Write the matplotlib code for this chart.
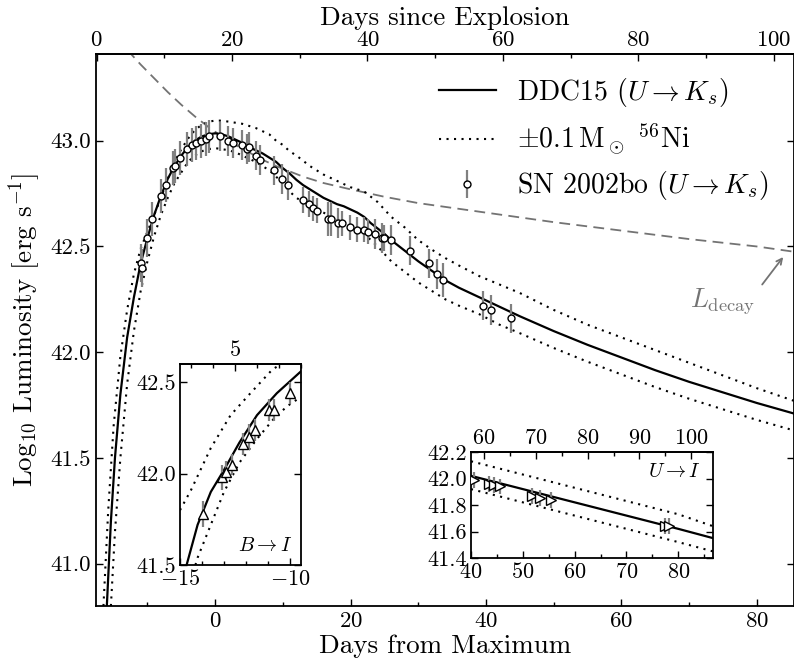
import numpy as np
import matplotlib
matplotlib.use('Agg')
import matplotlib.pyplot as plt
from matplotlib.lines import Line2D
from matplotlib.ticker import MultipleLocator

plt.rcParams['font.family'] = 'serif'
plt.rcParams['font.serif'] = ['cmr10']
plt.rcParams['mathtext.fontset'] = 'cm'
plt.rcParams['axes.formatter.use_mathtext'] = True

# days between explosion and B maximum
t_max = 17.5

# SN 2002bo, U -> Ks (days from max, log L, error)
obs_day = [-10.9, -10.8, -10.0, -9.3, -8.0, -7.3, -6.2, -6.0, -5.2, -4.1, -3.4, -2.9,
           -2.1, -1.3, -0.9, 0.7, 1.9, 2.7, 3.9, 4.7, 5.0, 6.0, 6.6, 8.7, 9.9, 10.7,
           13.0, 13.9, 14.5, 15.1, 16.7, 17.1, 18.1, 18.7, 19.9, 21.0, 22.0, 22.6,
           23.6, 24.6, 25.0, 26.0, 28.8, 31.6, 32.8, 33.7, 39.5, 40.8, 43.7]
obs_lum = [42.42, 42.40, 42.54, 42.63, 42.74, 42.79, 42.87, 42.88, 42.92, 42.96, 42.98, 42.99,
           43.00, 43.01, 43.02, 43.02, 43.00, 42.99, 42.98, 42.96, 42.97, 42.93, 42.91, 42.86,
           42.82, 42.79, 42.72, 42.70, 42.68, 42.67, 42.63, 42.63, 42.61, 42.61, 42.59, 42.58,
           42.58, 42.57, 42.56, 42.54, 42.54, 42.53, 42.48, 42.42, 42.37, 42.34, 42.22, 42.20,
           42.16]
obs_err = [0.09, 0.09, 0.09, 0.08, 0.08, 0.08, 0.08, 0.08, 0.08, 0.08, 0.08, 0.08,
           0.08, 0.08, 0.08, 0.07, 0.07, 0.07, 0.07, 0.07, 0.07, 0.07, 0.07, 0.07,
           0.07, 0.07, 0.06, 0.06, 0.06, 0.06, 0.08, 0.08, 0.07, 0.06, 0.06, 0.06,
           0.06, 0.06, 0.07, 0.07, 0.06, 0.07, 0.07, 0.07, 0.07, 0.08, 0.07, 0.07,
           0.07]

# DDC15 model, U -> Ks
mod_day = [-16.0, -15.4, -14.8, -14.0, -13.0, -12.0, -11.0, -10.0, -9.0, -8.0, -7.0, -6.0,
           -5.0, -4.0, -3.0, -2.0, -1.0, 0.0, 1.0, 2.0, 3.0, 4.0, 5.0, 6.0, 7.0, 8.0, 9.0,
           10.0, 11.0, 12.0, 13.0, 14.0, 15.0, 16.0, 17.0, 18.0, 19.0, 20.0, 21.0, 22.0,
           23.0, 24.0, 25.0, 26.0, 27.0, 28.0, 29.0, 30.0, 32.0, 34.0, 36.0, 39.0, 42.0,
           45.0, 50.0, 55.0, 60.0, 65.0, 70.0, 75.0, 80.0, 85.5]
mod_lum = [40.80, 41.20, 41.50, 41.80, 42.07, 42.26, 42.42, 42.54, 42.65, 42.74, 42.82, 42.88,
           42.93, 42.97, 43.00, 43.02, 43.03, 43.035, 43.03, 43.02, 43.005, 42.99, 42.97, 42.955,
           42.94, 42.92, 42.90, 42.87, 42.845, 42.815, 42.79, 42.77, 42.75, 42.73, 42.715, 42.70,
           42.69, 42.675, 42.66, 42.64, 42.61, 42.585, 42.56, 42.53, 42.505, 42.48, 42.455, 42.43,
           42.385, 42.34, 42.305, 42.26, 42.215, 42.17, 42.10, 42.035, 41.975, 41.915, 41.86,
           41.81, 41.76, 41.71]

# +0.1 Msun 56Ni
hi_day = [-16.5, -15.8, -15.0, -14.0, -13.0, -12.0, -11.0, -10.0, -9.0, -8.0, -7.0, -6.0,
          -5.0, -4.0, -3.0, -2.0, -1.0, 0.0, 1.0, 2.0, 3.0, 4.0, 5.0, 6.0, 7.0, 8.0, 9.0,
          10.0, 11.0, 12.0, 14.0, 16.0, 18.0, 20.0, 22.0, 24.0, 26.0, 28.0, 30.0, 32.0, 34.0,
          36.0, 39.0, 42.0, 45.0, 50.0, 55.0, 60.0, 65.0, 70.0, 75.0, 80.0, 85.5]
hi_lum = [40.80, 41.25, 41.65, 41.98, 42.20, 42.37, 42.49, 42.57, 42.65, 42.73, 42.82, 42.90,
          42.96, 43.01, 43.05, 43.075, 43.09, 43.095, 43.095, 43.09, 43.085, 43.08, 43.07, 43.06,
          43.045, 43.03, 43.00, 42.98, 42.95, 42.93, 42.88, 42.84, 42.81, 42.78, 42.76, 42.71,
          42.64, 42.59, 42.53, 42.485, 42.445, 42.41, 42.36, 42.32, 42.28, 42.20, 42.13, 42.07,
          42.01, 41.95, 41.89, 41.83, 41.77]

# -0.1 Msun 56Ni
lo_day = [-15.4, -14.8, -14.0, -13.0, -12.0, -11.0, -10.0, -9.0, -8.0, -7.0, -6.0, -5.0,
          -4.0, -3.0, -2.0, -1.0, 0.0, 1.0, 2.0, 3.0, 4.0, 5.0, 6.0, 7.0, 8.0, 9.0, 10.0,
          11.0, 12.0, 14.0, 16.0, 18.0, 20.0, 22.0, 24.0, 26.0, 28.0, 30.0, 32.0, 34.0, 36.0,
          39.0, 42.0, 45.0, 50.0, 55.0, 60.0, 65.0, 70.0, 75.0, 80.0, 85.5]
lo_lum = [40.80, 41.15, 41.50, 41.85, 42.10, 42.29, 42.43, 42.55, 42.65, 42.73, 42.80, 42.85,
          42.90, 42.93, 42.95, 42.96, 42.965, 42.96, 42.955, 42.945, 42.93, 42.915, 42.90, 42.88,
          42.86, 42.83, 42.80, 42.76, 42.73, 42.69, 42.66, 42.63, 42.60, 42.56, 42.50, 42.43,
          42.38, 42.33, 42.29, 42.25, 42.22, 42.18, 42.13, 42.09, 42.02, 41.955, 41.895, 41.835,
          41.78, 41.73, 41.68, 41.63]

# radioactive decay luminosity
decay_day = [-13.0, -11.0, -9.0, -7.0, -5.0, -3.0, -1.0, 1.0, 3.0, 5.0, 7.0, 9.0, 11.0,
             13.0, 16.0, 20.0, 25.0, 30.0, 40.0, 50.0, 60.0, 70.0, 80.0, 85.5]
decay_lum = [43.43, 43.36, 43.295, 43.23, 43.17, 43.115, 43.065, 43.02, 42.98, 42.945, 42.91,
             42.88, 42.855, 42.83, 42.80, 42.77, 42.735, 42.705, 42.66, 42.615, 42.575, 42.535,
             42.50, 42.475]

# inset B -> I
bi_obs_day = [-13.97, -13.11, -12.91, -12.65, -12.15, -11.85, -11.59, -10.94, -10.73, -10.0]
bi_obs_lum = [41.78, 41.98, 42.01, 42.05, 42.16, 42.20, 42.24, 42.35, 42.35, 42.44]
bi_obs_err = [0.07, 0.07, 0.06, 0.06, 0.06, 0.07, 0.06, 0.06, 0.06, 0.06]
bi_mod_day = [-14.7, -14.2, -13.6, -13.0, -12.3, -11.5, -10.6, -9.5]
bi_mod_lum = [41.50, 41.72, 41.90, 42.02, 42.17, 42.32, 42.44, 42.56]
bi_hi_day = [-15.0, -14.5, -13.6, -12.7, -11.8, -10.8, -10.4]
bi_hi_lum = [41.80, 41.91, 42.14, 42.32, 42.44, 42.57, 42.60]
bi_lo_day = [-14.3, -14.2, -13.6, -13.0, -12.3, -11.5, -10.6, -10.0, -9.5]
bi_lo_lum = [41.50, 41.54, 41.72, 41.90, 42.06, 42.19, 42.32, 42.38, 42.42]

# inset U -> I
ui_obs_day = [40.5, 43.4, 44.5, 45.5, 51.7, 53.3, 55.4, 77.4, 78.3]
ui_obs_lum = [41.99, 41.96, 41.95, 41.94, 41.87, 41.85, 41.84, 41.64, 41.64]
ui_obs_err = [0.06, 0.06, 0.06, 0.06, 0.06, 0.06, 0.06, 0.06, 0.06]
ui_mod_day = [40.0, 50.0, 60.0, 70.0, 80.0, 86.7]
ui_mod_lum = [42.02, 41.92, 41.82, 41.72, 41.62, 41.55]
ui_hi_day = [40.0, 50.0, 60.0, 70.0, 80.0, 86.7]
ui_hi_lum = [42.13, 42.03, 41.93, 41.83, 41.73, 41.64]
ui_lo_day = [40.0, 50.0, 60.0, 70.0, 80.0, 86.7]
ui_lo_lum = [41.92, 41.82, 41.72, 41.62, 41.52, 41.45]

dots = (0, (1, 2.6))
grey = '0.5'
tick_size = 16.5
inset_size = 16


def style_ticks(a, major=5, minor=3):
    a.tick_params(which='both', direction='in', top=False, right=True, width=1)
    a.tick_params(which='major', length=major)
    a.tick_params(which='minor', length=minor)
    for s in a.spines.values():
        s.set_linewidth(1.3)


def top_axis(a, major, minor, size):
    sec = a.secondary_xaxis('top', functions=(lambda d: d + t_max, lambda t: t - t_max))
    sec.xaxis.set_major_locator(MultipleLocator(major))
    sec.xaxis.set_minor_locator(MultipleLocator(minor))
    sec.tick_params(which='both', direction='in', width=1, labelsize=size, pad=3)
    sec.tick_params(which='major', length=5)
    sec.tick_params(which='minor', length=3)
    sec.spines['top'].set_linewidth(1.3)
    return sec


fig = plt.figure(figsize=(7.94, 6.66), dpi=100)
ax = fig.add_axes([96 / 794, 1 - 606 / 666, 698 / 794, 552 / 666])

ax.plot(decay_day, decay_lum, color='0.45', lw=1.3, dashes=(6, 3.5))
ax.plot(hi_day, hi_lum, color='k', lw=1.5, linestyle=dots)
ax.plot(lo_day, lo_lum, color='k', lw=1.5, linestyle=dots)
ax.plot(mod_day, mod_lum, color='k', lw=1.6)
ax.errorbar(obs_day, obs_lum, yerr=obs_err, fmt='o', ms=5, mfc='white', mec='k', mew=1,
            ecolor=grey, elinewidth=1.6, capsize=0, zorder=3)

ax.set_xlim(-17.6, 85.5)
ax.set_ylim(40.8, 43.41)
ax.xaxis.set_major_locator(MultipleLocator(20))
ax.xaxis.set_minor_locator(MultipleLocator(10))
ax.yaxis.set_major_locator(MultipleLocator(0.5))
ax.yaxis.set_major_formatter(plt.FormatStrFormatter('%.1f'))
style_ticks(ax)
ax.tick_params(labelsize=tick_size, pad=4)
ax.set_xlabel('Days from Maximum', fontsize=19.5, labelpad=2)
ax.set_ylabel(r'Log$_{10}$ Luminosity [erg s$^{-1}$]', fontsize=19.5, labelpad=5)
sec = top_axis(ax, 20, 10, tick_size)
sec.set_xlabel('Days since Explosion', fontsize=19.5, labelpad=4)

ax.annotate('', xy=(83.9, 42.45), xytext=(80.8, 42.32),
            arrowprops=dict(arrowstyle='->', color='0.45', lw=1.3, shrinkA=0, shrinkB=0))
ax.text(75.0, 42.24, r'$L_{\rm decay}$', color='0.45', fontsize=19, ha='center', va='center')

handles = [Line2D([], [], color='k', lw=1.6),
           Line2D([], [], color='k', lw=1.5, linestyle=dots),
           ax.errorbar([], [], yerr=[], fmt='o', ms=5, mfc='white', mec='k', mew=1,
                       ecolor=grey, elinewidth=1.6, capsize=0)]
labels = [r'DDC15 ($U \rightarrow K_s$)', r'$\pm$0.1$\,$M$_\odot$ $^{56}$Ni',
          r'SN 2002bo ($U \rightarrow K_s$)']
ax.legend(handles, labels, loc='upper left', bbox_to_anchor=(439 / 794, 1 - 76 / 666),
          bbox_transform=fig.transFigure, frameon=False, borderpad=0, borderaxespad=0,
          fontsize=20, handlelength=2.05, handletextpad=0.75, labelspacing=0.45)

# inset: B -> I rise
ax1 = fig.add_axes([180 / 794, 1 - 565 / 666, 121 / 794, 201 / 666])
ax1.plot(bi_hi_day, bi_hi_lum, color='k', lw=1.5, linestyle=dots)
ax1.plot(bi_lo_day, bi_lo_lum, color='k', lw=1.5, linestyle=dots)
ax1.plot(bi_mod_day, bi_mod_lum, color='k', lw=1.6)
ax1.errorbar(bi_obs_day, bi_obs_lum, yerr=bi_obs_err, fmt='^', ms=7, mfc='white', mec='k',
             mew=1, ecolor=grey, elinewidth=1.6, capsize=0, zorder=3)
ax1.set_xlim(-15, -9.5)
ax1.set_ylim(41.5, 42.6)
ax1.xaxis.set_major_locator(MultipleLocator(5))
ax1.xaxis.set_minor_locator(MultipleLocator(1))
ax1.yaxis.set_major_locator(MultipleLocator(0.5))
ax1.yaxis.set_major_formatter(plt.FormatStrFormatter('%.1f'))
style_ticks(ax1)
ax1.tick_params(labelsize=inset_size, pad=3)
top_axis(ax1, 5, 1, inset_size)
ax1.text(0.93, 0.05, r'$B \rightarrow I$', transform=ax1.transAxes, ha='right', va='bottom',
         fontsize=14.5)

# inset: U -> I tail
ax2 = fig.add_axes([471 / 794, 1 - 558 / 666, 242 / 794, 106 / 666])
ax2.plot(ui_hi_day, ui_hi_lum, color='k', lw=1.5, linestyle=dots)
ax2.plot(ui_lo_day, ui_lo_lum, color='k', lw=1.5, linestyle=dots)
ax2.plot(ui_mod_day, ui_mod_lum, color='k', lw=1.6)
ax2.errorbar(ui_obs_day, ui_obs_lum, yerr=ui_obs_err, fmt='>', ms=7, mfc='white', mec='k',
             mew=1, ecolor=grey, elinewidth=1.6, capsize=0, zorder=3)
ax2.set_xlim(40, 86.7)
ax2.set_ylim(41.4, 42.2)
ax2.xaxis.set_major_locator(MultipleLocator(10))
ax2.xaxis.set_minor_locator(MultipleLocator(5))
ax2.yaxis.set_major_locator(MultipleLocator(0.2))
ax2.yaxis.set_major_formatter(plt.FormatStrFormatter('%.1f'))
style_ticks(ax2)
ax2.tick_params(labelsize=inset_size, pad=3)
top_axis(ax2, 10, 5, inset_size)
ax2.text(0.95, 0.9, r'$U \rightarrow I$', transform=ax2.transAxes, ha='right', va='top',
         fontsize=14.5)

fig.savefig('out.png', dpi=100)
